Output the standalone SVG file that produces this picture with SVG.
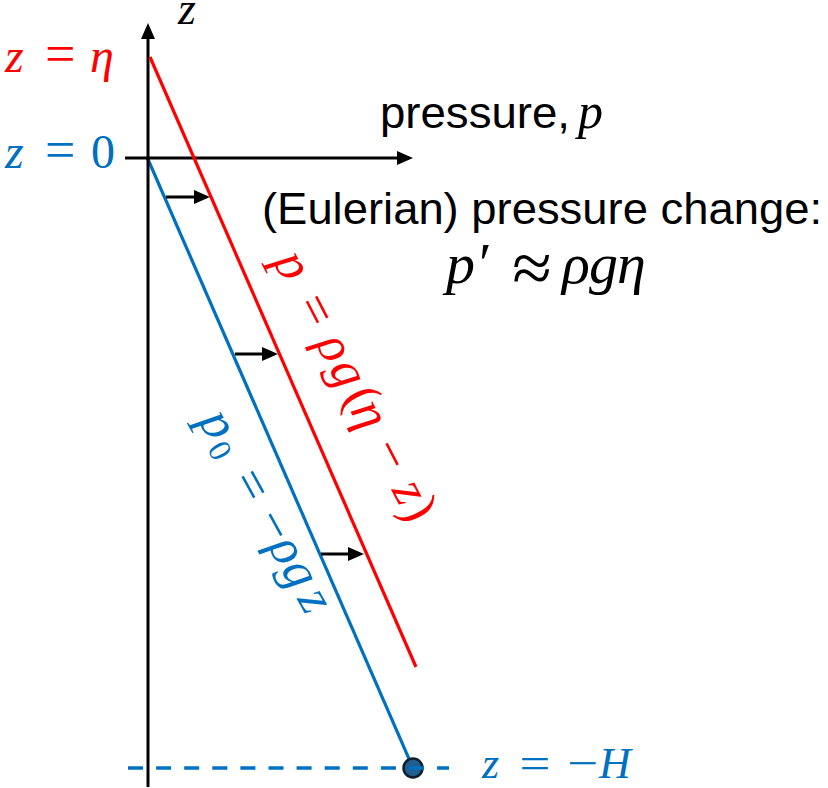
<svg xmlns="http://www.w3.org/2000/svg" width="828" height="788" viewBox="0 0 828 788">
<style>
.m{font-family:"Liberation Serif","DejaVu Serif",serif}
.i{font-style:italic}
.s{font-family:"Liberation Sans",Arial,sans-serif}
.red{fill:#FF0000}
.blue{fill:#0070C0}
.arr{stroke:#000;stroke-width:3;fill:none;marker-end:url(#ah)}
</style>
<defs>
<marker id="ah" viewBox="0 0 16 14" markerWidth="16" markerHeight="14" refX="4" refY="7" orient="auto" markerUnits="userSpaceOnUse">
<path d="M0,0 L16,7 L0,14 Z" fill="#000"/>
</marker>
</defs>

<g id="profile-lines">
<line id="blue-line" x1="147" y1="157" x2="413" y2="768" stroke="#0070C0" stroke-width="3.2"/>
<circle id="bottom-point" cx="413" cy="768" r="9.5" fill="#215F8F" stroke="#0D1F2D" stroke-width="2.5"/>
<line id="bottom-dash" x1="128" y1="768" x2="449" y2="768" stroke="#0070C0" stroke-width="3.5" stroke-dasharray="15 13.1"/>
</g>

<g id="axes">
<line class="arr" x1="148" y1="787" x2="148" y2="35"/>
<line class="arr" x1="125" y1="158" x2="401" y2="158"/>
</g>

<g id="red-profile">
<line x1="150" y1="57" x2="416" y2="667" stroke="#FF0000" stroke-width="3.2"/>
</g>

<g id="connectors">
<line class="arr" x1="166" y1="197" x2="198" y2="197"/>
<line class="arr" x1="235" y1="354" x2="266" y2="354"/>
<line class="arr" x1="321" y1="554" x2="352" y2="554"/>
</g>

<g id="axis-labels">
<text class="m i" x="178" y="24" font-size="46" fill="#000">z</text>
<text class="m red" y="72" font-size="48"><tspan class="i" x="5">z</tspan><tspan x="45" font-size="54">=</tspan><tspan class="i" x="90">η</tspan></text>
<text class="m blue" y="168" font-size="48"><tspan class="i" x="5">z</tspan><tspan x="45" font-size="54">=</tspan><tspan x="91">0</tspan></text>
</g>

<g id="bottom-label">
<text class="m blue i" x="482" y="778" font-size="44">z</text>
<text class="m blue" transform="translate(535,778) scale(1.25,1)" x="0" y="0" font-size="44" text-anchor="middle">=</text>
<text class="m blue" transform="translate(583,778) scale(1.25,1)" x="0" y="0" font-size="44" text-anchor="middle">−</text>
<text class="m blue i" x="599" y="778" font-size="44">H</text>
</g>

<g id="pressure-label">
<text class="s" x="380" y="128" font-size="44" fill="#000" textLength="190" lengthAdjust="spacingAndGlyphs">pressure,</text>
<text class="m i" x="578" y="128" font-size="50" fill="#000">p</text>
</g>

<g id="eulerian-label">
<text class="s" x="262" y="224" font-size="44" fill="#000" textLength="560" lengthAdjust="spacingAndGlyphs">(Eulerian) pressure change:</text>
<text class="m" y="283" font-size="58" fill="#000"><tspan class="i" x="446">p</tspan><tspan x="479">′</tspan><tspan class="i" x="562">ρ</tspan><tspan class="i" x="589">g</tspan><tspan class="i" x="617">η</tspan></text>
<text class="m" x="532" y="292" font-size="72" text-anchor="middle" fill="#000">≈</text>
</g>

<g id="red-label" transform="translate(272.1,260) rotate(62.6)">
<text class="m red" y="0" font-size="52"><tspan class="i" x="1">p</tspan><tspan x="50">=</tspan><tspan class="i" x="94">ρ</tspan><tspan class="i" x="122">g</tspan><tspan x="154">(</tspan><tspan class="i" x="169">η</tspan><tspan x="213">−</tspan><tspan class="i" x="259">z</tspan><tspan x="281">)</tspan></text>
</g>

<g id="blue-label" transform="translate(197.9,420.6) rotate(61)">
<text class="m blue" y="0" font-size="52"><tspan class="i" x="0">p</tspan><tspan x="29" dy="6" font-size="32">0</tspan><tspan x="68" dy="-6">=</tspan><tspan x="114">−</tspan><tspan class="i" x="144">ρ</tspan><tspan class="i" x="170">g</tspan><tspan class="i" x="204">z</tspan></text>
</g>
</svg>
